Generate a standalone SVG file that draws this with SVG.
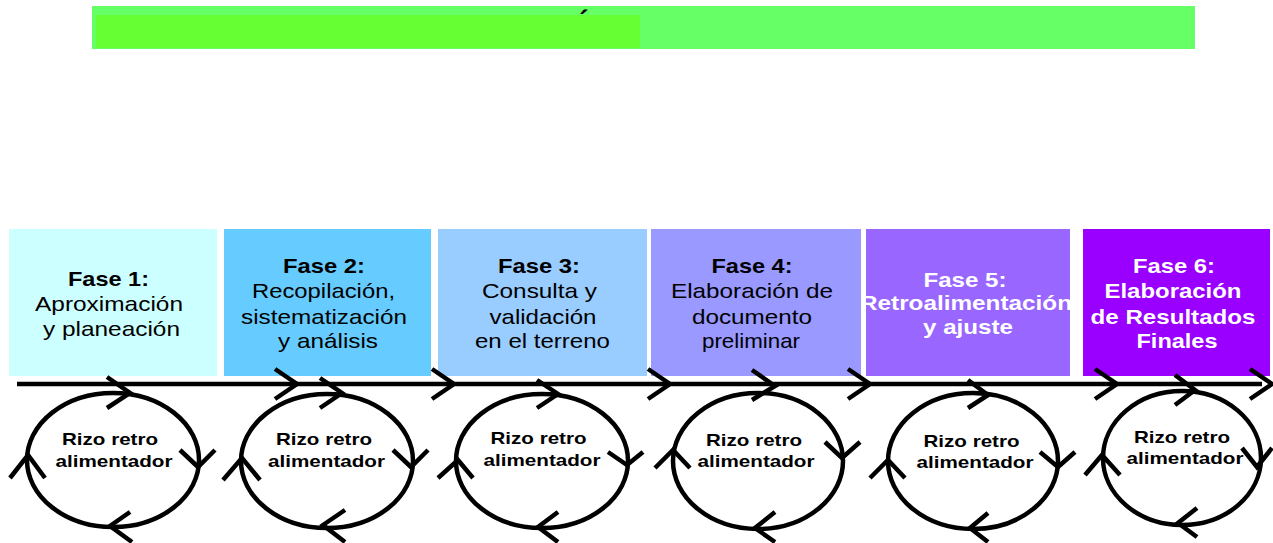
<svg xmlns="http://www.w3.org/2000/svg" width="1273" height="543" viewBox="0 0 1273 543">
<style>
.t{font-family:"Liberation Sans",Arial,sans-serif;font-size:21px;fill:#000;text-anchor:middle}
.b{font-weight:bold}
.w{fill:#fff;font-weight:bold}
.r{font-family:"Liberation Sans",Arial,sans-serif;font-size:17px;font-weight:bold;fill:#000;text-anchor:middle}
.ln{stroke:#000;stroke-width:4.5;fill:none}
.ch{stroke:#000;stroke-width:4.5;fill:none;stroke-linejoin:miter}
.el{stroke:#000;stroke-width:4.5;fill:none}
</style>
<rect width="1273" height="543" fill="#fff"/>
<g id="titlebar">
<rect x="92" y="6" width="1103" height="43" fill="#66FF66"/>
<text x="584" y="30" font-family="Liberation Sans, Arial, sans-serif" font-size="28" font-weight="bold" text-anchor="middle">´</text>
<rect x="96" y="15" width="544" height="33" fill="#66FF33"/>
</g>
<g id="fase1">
<rect x="9" y="229" width="208" height="147" fill="#CCFFFF"/>
<text class="t b" x="108.5" y="286" textLength="81" lengthAdjust="spacingAndGlyphs">Fase 1:</text>
<text class="t" x="109" y="311" textLength="148" lengthAdjust="spacingAndGlyphs">Aproximación</text>
<text class="t" x="111.5" y="336" textLength="137" lengthAdjust="spacingAndGlyphs">y planeación</text>
</g>
<g id="fase2">
<rect x="224" y="229" width="207" height="147" fill="#66CCFF"/>
<text class="t b" x="324" y="273" textLength="82" lengthAdjust="spacingAndGlyphs">Fase 2:</text>
<text class="t" x="323.5" y="298" textLength="143" lengthAdjust="spacingAndGlyphs">Recopilación,</text>
<text class="t" x="324" y="324" textLength="166" lengthAdjust="spacingAndGlyphs">sistematización</text>
<text class="t" x="328" y="348" textLength="100" lengthAdjust="spacingAndGlyphs">y análisis</text>
</g>
<g id="fase3">
<rect x="438" y="229" width="209" height="147" fill="#99CCFF"/>
<text class="t b" x="539" y="273" textLength="82" lengthAdjust="spacingAndGlyphs">Fase 3:</text>
<text class="t" x="539.5" y="298" textLength="115" lengthAdjust="spacingAndGlyphs">Consulta y</text>
<text class="t" x="543" y="324" textLength="107" lengthAdjust="spacingAndGlyphs">validación</text>
<text class="t" x="542.5" y="348" textLength="135" lengthAdjust="spacingAndGlyphs">en el terreno</text>
</g>
<g id="fase4">
<rect x="651" y="229" width="210" height="147" fill="#9999FF"/>
<text class="t b" x="752" y="273" textLength="81" lengthAdjust="spacingAndGlyphs">Fase 4:</text>
<text class="t" x="752" y="298" textLength="162" lengthAdjust="spacingAndGlyphs">Elaboración de</text>
<text class="t" x="752" y="324" textLength="120" lengthAdjust="spacingAndGlyphs">documento</text>
<text class="t" x="751" y="348" textLength="98" lengthAdjust="spacingAndGlyphs">preliminar</text>
</g>
<g id="fase5">
<rect x="866" y="229" width="204" height="147" fill="#9966FF"/>
<text class="t w" x="965" y="287" textLength="83" lengthAdjust="spacingAndGlyphs">Fase 5:</text>
<text class="t w" x="966" y="310" textLength="212" lengthAdjust="spacingAndGlyphs">Retroalimentación</text>
<text class="t w" x="968" y="334" textLength="90" lengthAdjust="spacingAndGlyphs">y ajuste</text>
</g>
<g id="fase6">
<rect x="1083" y="229" width="187" height="147" fill="#9900FF"/>
<text class="t w" x="1174" y="273" textLength="82" lengthAdjust="spacingAndGlyphs">Fase 6:</text>
<text class="t w" x="1173" y="298" textLength="137" lengthAdjust="spacingAndGlyphs">Elaboración</text>
<text class="t w" x="1173" y="324" textLength="165" lengthAdjust="spacingAndGlyphs">de Resultados</text>
<text class="t w" x="1177" y="348" textLength="81" lengthAdjust="spacingAndGlyphs">Finales</text>
</g>
<g id="connectors">
<line class="ln" x1="17" y1="384" x2="1262" y2="384"/>
<path class="ch" d="M275,369 L297,384 L275,399 M432,369 L454,384 L432,399 M648,369 L670,384 L648,399 M848,369 L870,384 L848,399 M1095,369 L1117,384 L1095,399 M1250,369 L1272,384 L1250,399"/>
</g>
<g id="rizo1">
<ellipse class="el" cx="113" cy="460" rx="86" ry="67"/>
<path class="ch" d="M107,377 L130,393 L107,408 M180,450 L198,467 L215,450 M10,478 L28,455 L45,478 M130,512 L110,526 L132,542"/>
<text class="r" x="110" y="445" textLength="96" lengthAdjust="spacingAndGlyphs">Rizo retro</text>
<text class="r" x="114" y="467" textLength="117" lengthAdjust="spacingAndGlyphs">alimentador</text>
</g>
<g id="rizo2">
<ellipse class="el" cx="327" cy="461" rx="86" ry="67"/>
<path class="ch" d="M320,378 L342,393 L320,408 M393,450 L411,467 L428,450 M223,480 L242,458 L260,480 M345,510 L323,525 L345,542"/>
<text class="r" x="324" y="445" textLength="96" lengthAdjust="spacingAndGlyphs">Rizo retro</text>
<text class="r" x="326.5" y="467" textLength="117" lengthAdjust="spacingAndGlyphs">alimentador</text>
</g>
<g id="rizo3">
<ellipse class="el" cx="542" cy="461" rx="86" ry="67"/>
<path class="ch" d="M537,380 L558,394 L537,408 M608,452 L627,465 L643,452 M438,478 L458,460 L473,478 M558,512 L538,527 L558,542"/>
<text class="r" x="538.5" y="444" textLength="96" lengthAdjust="spacingAndGlyphs">Rizo retro</text>
<text class="r" x="542" y="466" textLength="117" lengthAdjust="spacingAndGlyphs">alimentador</text>
</g>
<g id="rizo4">
<ellipse class="el" cx="758" cy="461" rx="85" ry="68"/>
<path class="ch" d="M752,370 L775,386 L752,400 M825,442 L842,458 L860,442 M655,468 L673,450 L690,468 M775,512 L755,528 L775,542"/>
<text class="r" x="754" y="446" textLength="96" lengthAdjust="spacingAndGlyphs">Rizo retro</text>
<text class="r" x="756" y="467" textLength="117" lengthAdjust="spacingAndGlyphs">alimentador</text>
</g>
<g id="rizo5">
<ellipse class="el" cx="973" cy="461" rx="85" ry="68"/>
<path class="ch" d="M968,380 L988,395 L968,408 M1040,452 L1058,467 L1075,452 M870,478 L888,460 L905,478 M988,513 L970,528 L988,542"/>
<text class="r" x="971.5" y="447" textLength="96" lengthAdjust="spacingAndGlyphs">Rizo retro</text>
<text class="r" x="975" y="468" textLength="117" lengthAdjust="spacingAndGlyphs">alimentador</text>
</g>
<g id="rizo6">
<ellipse class="el" cx="1182" cy="458" rx="79" ry="67"/>
<path class="ch" d="M1175,375 L1195,390 L1175,405 M1242,448 L1257,467 L1272,448 M1085,475 L1102,455 L1120,475 M1197,508 L1178,523 L1197,537"/>
<text class="r" x="1182" y="443" textLength="96" lengthAdjust="spacingAndGlyphs">Rizo retro</text>
<text class="r" x="1185" y="464" textLength="117" lengthAdjust="spacingAndGlyphs">alimentador</text>
</g>
</svg>
